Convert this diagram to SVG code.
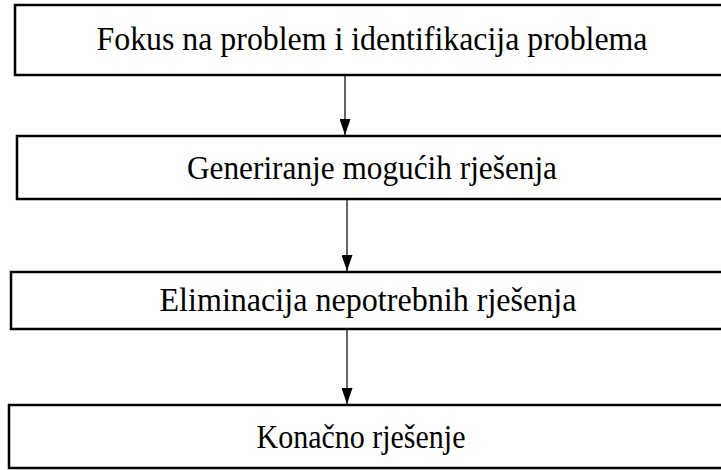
<svg xmlns="http://www.w3.org/2000/svg" width="721" height="470" viewBox="0 0 721 470">
<style>
.box{fill:#fff;stroke:#000;stroke-width:2.5}
.lbl{font-family:"Liberation Serif","Times New Roman",serif;font-size:34px;fill:#000;text-anchor:middle}
.con{stroke:#000;stroke-width:1.2;fill:none}
</style>
<defs>
<marker id="ah" viewBox="0 0 16 11" refX="16" refY="5.5" markerWidth="16" markerHeight="11" markerUnits="userSpaceOnUse" orient="auto">
<path d="M0,0 L16,5.5 L0,11 Z" fill="#000"/>
</marker>
</defs>
<rect width="721" height="470" fill="#fff"/>
<g id="n1"><rect class="box" x="15" y="5" width="730" height="70"/><text class="lbl" x="372" y="50" textLength="551" lengthAdjust="spacingAndGlyphs">Fokus na problem i identifikacija problema</text></g>
<g id="n2"><rect class="box" x="17" y="136" width="730" height="63"/><text class="lbl" x="372" y="179" textLength="370" lengthAdjust="spacingAndGlyphs">Generiranje mogućih rješenja</text></g>
<g id="n3"><rect class="box" x="11" y="272" width="730" height="57"/><text class="lbl" x="368" y="311" textLength="417" lengthAdjust="spacingAndGlyphs">Eliminacija nepotrebnih rješenja</text></g>
<g id="n4"><rect class="box" x="9" y="405" width="730" height="63"/><text class="lbl" x="361" y="448" textLength="209" lengthAdjust="spacingAndGlyphs">Konačno rješenje</text></g>
<g id="connectors">
<line class="con" x1="345" y1="76" x2="345" y2="135" marker-end="url(#ah)"/>
<line class="con" x1="347" y1="200" x2="347" y2="271" marker-end="url(#ah)"/>
<line class="con" x1="347" y1="330" x2="347" y2="404" marker-end="url(#ah)"/>
</g>
</svg>
